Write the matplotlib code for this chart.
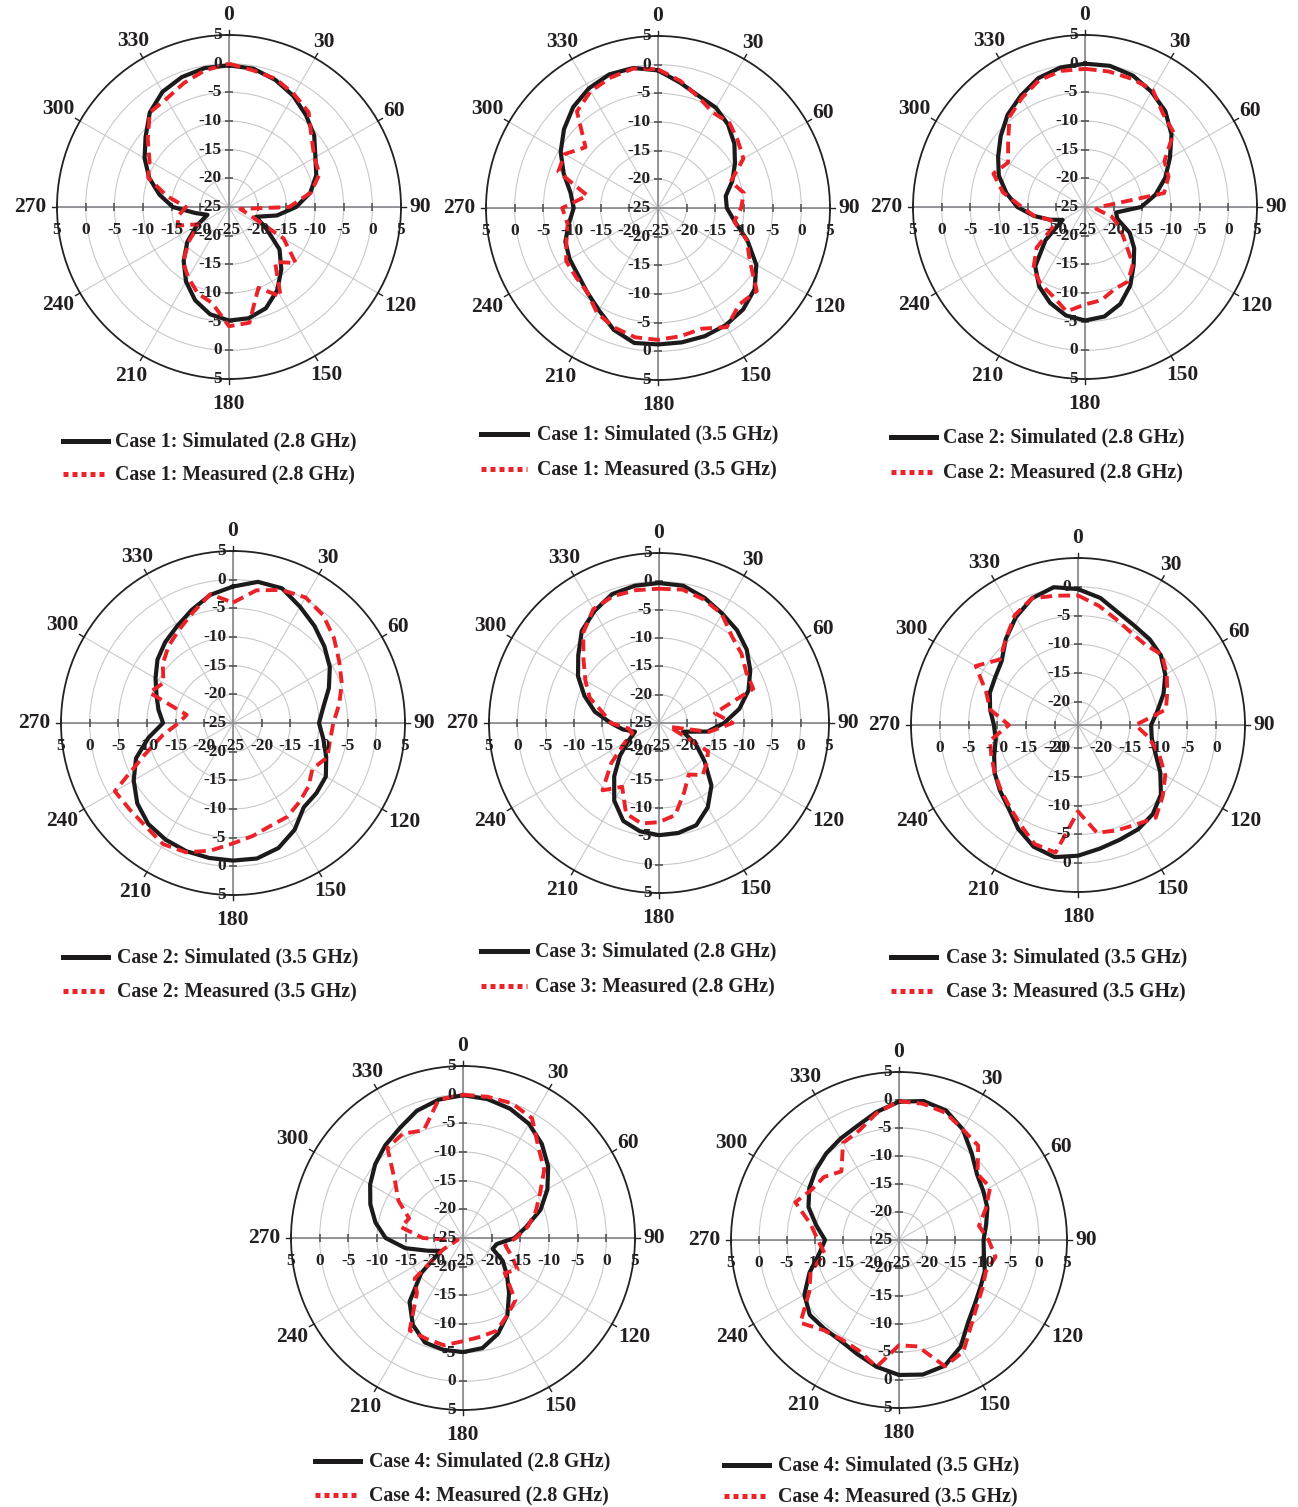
import numpy as np
import matplotlib
matplotlib.use("Agg")
import matplotlib.pyplot as plt
import matplotlib.transforms as mtransforms
from matplotlib.lines import Line2D

W, H = 1298, 1507

# pattern data, dB every 10 degrees (0..350)
angles = list(range(0, 360, 10))

c1_28_sim = [-0.3, -0.5, -1.4, -2.6, -4.1, -5.6, -7.6, -8.8, -10.6, -13.3,
             -16.5, -20, -17.5, -13.5, -10.8, -8.2, -6.2, -5.3, -5.2, -6.0,
             -7.7, -10.0, -12.7, -15.5, -18.5, -21, -19, -15.2, -12.7, -10.2,
             -8, -6, -3.5, -1.8, -0.9, -0.4]
c1_28_meas = [0, -0.8, -1.2, -2.3, -3.4, -6.2, -7.8, -8.2, -10.5, -14.5,
              -23, -21.5, -14, -9.8, -12.5, -7, -10, -4.5, -4.2, -8,
              -9, -10.8, -12.5, -16, -19, -15.5, -16, -17.5, -14, -10,
              -9, -6.5, -3.5, -3.2, -2, -0.8]

c1_35_sim = [-1.0, -2.8, -4.2, -4.8, -6.0, -7.6, -9.5, -11.2, -13, -13,
             -11.4, -8.4, -5.2, -3.0, -1.9, -1.4, -1.2, -1.2, -1.2, -1.1,
             -2.4, -4.4, -5.8, -6.8, -7.2, -7.8, -9.2, -10.3, -9.5, -7.5,
             -5.4, -3.6, -2.0, -0.9, -0.2, -0.2]
c1_35_meas = [-0.8, -2.5, -4.4, -5.8, -5.6, -6.8, -7.8, -11.5, -9.8, -10.5,
              -11.5, -8.5, -6.5, -2.5, -3, -1, -2.6, -2.3, -2, -2.1,
              -2.8, -3.8, -5.8, -6.3, -6.5, -8, -9, -8.3, -12.5, -6.5,
              -6.2, -8.5, -3, -1.5, -0.8, -0.3]

c2_28_sim = [0, 0, -0.6, -1.8, -3.2, -5.3, -7.9, -10.1, -12.5, -15.2,
             -19.5, -19, -16, -13.8, -11.8, -9.2, -7, -5.6, -5.2, -5.8,
             -7.2, -9, -11.5, -16, -20.5, -18.5, -16, -13.2, -11.1, -9,
             -7.5, -5.8, -4, -2.6, -1.1, -0.3]
c2_28_meas = [-0.9, -1, -1.2, -1.4, -3.8, -4.8, -9, -9.5, -11, -22.5,
              -23, -20, -18, -16, -12, -10, -9.8, -8.5, -8, -6.5,
              -8.5, -9.5, -11, -14, -19, -18.5, -16, -14, -10.5, -8,
              -9.5, -7.5, -4.5, -3, -1.5, -0.9]

c2_35_sim = [-1.2, 0, 0, -1.6, -2.9, -4.2, -5.5, -7.2, -9, -10,
             -9, -7.7, -6.3, -6, -5.8, -3.5, -1.8, -1.0, -1.0, -1.1,
             -1.2, -1.5, -2, -3.2, -5, -7, -10, -12.8, -11.8, -10.8,
             -9.4, -7.8, -6.6, -5.5, -4.0, -2.3]
c2_35_meas = [-4, -1.5, -0.3, 0.3, -0.5, -2, -3.6, -4.8, -6.2, -7.5,
              -7.8, -7.5, -9, -7.8, -7, -6.1, -5.9, -5, -4, -2.4,
              -1, -0.6, -1.4, -1.5, -1.2, -8.5, -12.5, -15.5, -16.8, -9.5,
              -11, -9, -7.5, -6.2, -4.5, -2.2]

c3_28_sim = [-0.3, -0.4, -1.5, -2.7, -3.6, -4.8, -6.4, -8.2, -10.6, -13.5,
             -16.3, -20.5, -17.5, -14.5, -10.6, -7.8, -5.8, -5.3, -5.2, -5.6,
             -6.6, -9.2, -12.7, -16, -18.8, -20.5, -18.5, -16.5, -13.5, -11,
             -8.5, -6.4, -3.8, -2.2, -0.8, -0.4]
c3_28_meas = [-1.3, -1.1, -1.8, -2.8, -5, -6, -7.2, -7.3, -15, -12,
              -16, -23, -15, -14, -13, -14.5, -12, -8.5, -7.5, -7,
              -8, -12, -9.5, -14, -18, -20, -19.5, -16.5, -15, -12,
              -10, -7.6, -4.2, -1.8, -1.2, -1.2]

c3_35_sim = [-0.4, -1.6, -3.3, -4.2, -4.6, -5.2, -6.5, -8.2, -10, -11.3,
             -11, -9.7, -7.5, -5.2, -3.8, -3.1, -2.8, -2.2, -1.3, -0.7,
             -1.5, -3.2, -5.2, -6.3, -7.3, -8.5, -9.5, -9.4, -8.5, -7.7,
             -7.4, -6.7, -4.5, -2.4, -0.6, 0.3]
c3_35_meas = [-1.5, -3, -4.5, -5.5, -5.8, -5, -6.2, -7.5, -8.5, -14,
              -11.5, -9, -6.5, -4.8, -3, -4, -4.5, -5, -9, -1.5,
              -2, -4, -5.5, -6.5, -7.3, -8, -8.5, -12, -8.5, -7,
              -3.5, -6.3, -4.5, -2, -0.6, -1.2]

c4_28_sim = [-0.1, -0.4, -1.0, -2.0, -3.6, -5.6, -8, -10.6, -13.8, -16,
             -19, -19.5, -17, -15, -12.5, -9.5, -7.2, -5.5, -5.1, -5.2,
             -5.6, -7.5, -10.5, -15.5, -20.5, -18.5, -14.8, -11.5, -9.5, -7.8,
             -6.3, -5, -3.9, -2.9, -1.4, -0.5]
c4_28_meas = [0, 0, 0, -0.9, -4.5, -6.5, -9.5, -11.5, -13.5, -15.8,
              -17.5, -16, -14, -15.5, -10.8, -9.5, -7.8, -7.5, -7, -6,
              -6.3, -6.4, -12.5, -14, -21, -24, -23, -18, -14, -15,
              -12, -9.5, -4.5, -4, -5, -0.5]

c4_35_sim = [-0.3, 0.2, -0.4, -2.2, -4.8, -6.8, -7.6, -8.2, -9.2, -9.9,
             -9.6, -8.7, -8.2, -7.3, -5.8, -3, -1.1, -0.6, -0.9, -2,
             -3.3, -4.2, -4.3, -4.2, -5.5, -8, -10.5, -11.8, -10, -7.8,
             -6.5, -5.6, -4.8, -4.1, -3.3, -1.8]
c4_35_meas = [-0.2, -0.3, -0.8, -2.2, -3, -6.7, -6.2, -8.5, -10.5, -9,
              -7.5, -8.5, -7.8, -6.8, -5, -2, -1, -5.7, -6.2, -2,
              -4, -4.5, -4, -2, -6.5, -8.2, -11.5, -10.5, -9, -5.3,
              -7, -7.5, -9, -5, -4.2, -2]

sims = [c1_28_sim, c1_35_sim, c2_28_sim, c2_35_sim, c3_28_sim, c3_35_sim, c4_28_sim, c4_35_sim]
meas = [c1_28_meas, c1_35_meas, c2_28_meas, c2_35_meas, c3_28_meas, c3_35_meas, c4_28_meas, c4_35_meas]
cases = ["Case 1", "Case 1", "Case 2", "Case 2", "Case 3", "Case 3", "Case 4", "Case 4"]
freqs = ["2.8 GHz", "3.5 GHz"] * 4
theta_labels = [str(a) for a in range(0, 360, 30)]

# layout (pixels)
centers = [(229, 207), (658, 208), (1085, 207), (233, 723), (659, 723), (1078, 725), (463, 1238), (899, 1240)]
radii = [172, 172, 172, 172, 170, 167, 172, 168]
rmins = [-25, -25, -25, -25, -25, -24, -25, -25]
label_gap = [20, 18, 19, 19, 26, 22, 25, 23, 25, 27, 25, 20]
leg_x = [(63, 108, 115), (481, 527, 537), (891, 936, 943), (63, 108, 117),
         (481, 527, 535), (891, 936, 946), (315, 360, 369), (724, 769, 778)]
leg_y = [(441, 474), (434, 469), (437, 472), (957, 991), (951, 986), (957, 991), (1461, 1495), (1465, 1496)]

plt.rcParams['font.family'] = ['Liberation Serif', 'DejaVu Serif']
plt.rcParams['font.weight'] = 'bold'

BLACK = '#1c1a1b'
RED = '#ec2229'
TXT = '#231f20'

fig = plt.figure(figsize=(W / 100, H / 100), dpi=100)

for i in range(8):
    cx, cy = centers[i]
    R = radii[i]
    rmin = rmins[i]
    ax = fig.add_axes([(cx - R) / W, 1 - (cy + R) / H, 2 * R / W, 2 * R / H], projection='polar')
    ax.set_theta_zero_location('N')
    ax.set_theta_direction(-1)
    ax.set_ylim(rmin, 5)
    ax.set_thetagrids(range(0, 360, 30), labels=[''] * 12)
    ax.set_rgrids([-20, -15, -10, -5, 0], labels=[''] * 5)
    ax.grid(True, color='#c9c9cc', lw=0.8)
    ax.spines['polar'].set_color('#222222')
    ax.spines['polar'].set_linewidth(1.3)

    # angle labels outside the rim
    for k, lab in enumerate(theta_labels):
        t = np.deg2rad(30 * k)
        g = label_gap[k]
        tr = mtransforms.offset_copy(ax.transData, fig=fig, x=g * np.sin(t), y=g * np.cos(t), units='dots')
        ax.text(t, 5, lab, transform=tr, ha='center', va='center', fontsize=15.5,
                fontweight='bold', color=TXT, clip_on=False)

    # axis cross with ticks
    rticks = [r for r in [-20, -15, -10, -5, 0, 5] if r > rmin]
    for t in [0, np.pi / 2, np.pi, 3 * np.pi / 2]:
        ax.plot([t, t], [rmin, 5], color='#8e8e92', lw=1.3, zorder=2)
        mk = '_' if t in (0, np.pi) else '|'
        ax.plot([t] * len(rticks), rticks, ls='none', marker=mk, ms=6, mew=1.2,
                color='#555555', zorder=2, clip_on=False)
    for a in range(0, 360, 30):
        ax.plot([np.deg2rad(a)] * 2, [5, 5.9], color='#222222', lw=1.0, clip_on=False)

    # radial labels
    if rmin == -25:
        lab_vals = [5, 0, -5, -10, -15, -20]
    else:
        lab_vals = [0, -5, -10, -15, -20]
    tv = mtransforms.offset_copy(ax.transData, fig=fig, x=-7, y=0, units='dots')
    th = mtransforms.offset_copy(ax.transData, fig=fig, x=0, y=-23, units='dots')
    for v in lab_vals:
        for t in [0, np.pi]:
            ax.text(t, v, str(v), transform=tv, ha='right', va='center', fontsize=12.5,
                    fontweight='bold', color=TXT, zorder=5, clip_on=False)
        for t in [np.pi / 2, 3 * np.pi / 2]:
            ax.text(t, v, str(v), transform=th, ha='center', va='center', fontsize=12.5,
                    fontweight='bold', color=TXT, zorder=5, clip_on=False)
    if rmin == -25:
        ax.text(0, -25, '-25', transform=tv, ha='right', va='center', fontsize=12.5,
                fontweight='bold', color=TXT, zorder=5)
        ax.text(0, -25, '-25', transform=th, ha='center', va='center', fontsize=12.5,
                fontweight='bold', color=TXT, zorder=5)

    th_pts = np.deg2rad(angles + [360])
    ax.plot(th_pts, sims[i] + [sims[i][0]], color=BLACK, lw=3.0, zorder=3,
            solid_joinstyle='round')
    ax.plot(th_pts, meas[i] + [meas[i][0]], color=RED, lw=2.8, ls=(0, (3, 1.6)), zorder=4)

    # legend
    x0, x1, xt = leg_x[i]
    ys, ym = leg_y[i]
    fig.add_artist(Line2D([x0 / W, x1 / W], [1 - ys / H] * 2, color=BLACK, lw=3.6,
                          transform=fig.transFigure))
    fig.add_artist(Line2D([x0 / W, x1 / W], [1 - ym / H] * 2, color=RED, lw=3.6,
                          ls=(0, (1.0, 0.8)), dash_capstyle='butt', transform=fig.transFigure))
    fig.text(xt / W, 1 - ys / H, f"{cases[i]}: Simulated ({freqs[i]})", va='center',
             fontsize=14.3, fontweight='bold', color=TXT)
    fig.text(xt / W, 1 - ym / H, f"{cases[i]}: Measured ({freqs[i]})", va='center',
             fontsize=14.3, fontweight='bold', color=TXT)

fig.savefig('out.png', dpi=100)
